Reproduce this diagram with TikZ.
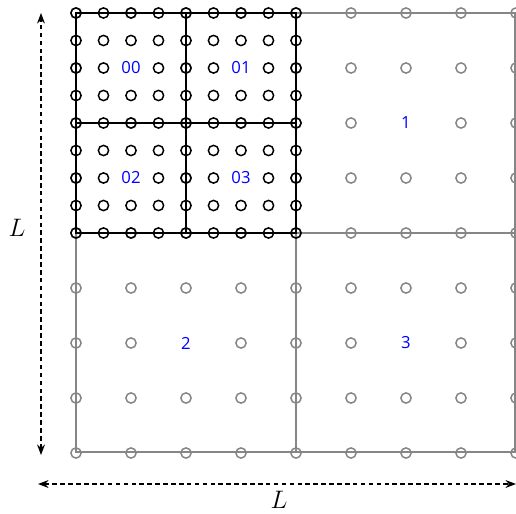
\documentclass[tikz,border=0pt]{standalone}
\usepackage{fontspec}
\setmainfont{Open Sans}
\usetikzlibrary{arrows.meta}
\begin{document}
\begin{tikzpicture}[x=0.02cm,y=-0.02cm,
  gline/.style={draw=gray!95, line width=0.85pt},
  bline/.style={draw=black, line width=1.1pt},
  gdot/.style={circle, draw=gray!95, line width=0.85pt, minimum size=0.205cm, inner sep=0pt},
  bdot/.style={circle, draw=black, line width=0.85pt, minimum size=0.205cm, inner sep=0pt},
  lab/.style={text=blue, font=\fontsize{9.5}{11}\selectfont, inner sep=0pt},
  dimarrow/.style={dash pattern=on 2.6pt off 1.9pt, line width=0.8pt, {Stealth[length=6pt,width=4.5pt]}-{Stealth[length=6pt,width=4.5pt]}},
  Llab/.style={font=\fontsize{15.5}{17}\selectfont, inner sep=0pt}]
\useasboundingbox (0,0) rectangle (516,513);
% grey coarse grid corners
\coordinate (g00) at (76,13);
\coordinate (g22) at (515,452);
\coordinate (gm0) at (296,13);
\coordinate (gm2) at (296,452);
\coordinate (g0m) at (76,233);
\coordinate (g2m) at (515,233);
\draw[gline] (g00) rectangle (g22);
\draw[gline] (gm0) -- (gm2);
\draw[gline] (g0m) -- (g2m);
% grey circles (skipped where a label stands)
\foreach \i in {0,...,8}{
  \foreach \j in {0,...,8}{
    \ifnum\i\j=11 \else\ifnum\i\j=13 \else\ifnum\i\j=31 \else\ifnum\i\j=33 \else
    \ifnum\i\j=62 \else\ifnum\i\j=26 \else\ifnum\i\j=66 \else
    \node[gdot] (c\i-\j) at ({76+55*\i},{13+55*\j}) {};
    \fi\fi\fi\fi\fi\fi\fi
  }
}
% black fine quadrant
\coordinate (b00) at (76,13);
\coordinate (b22) at (296,233);
\coordinate (bm0) at (186,13);
\coordinate (bm2) at (186,233);
\coordinate (b0m) at (76,123);
\coordinate (b2m) at (296,123);
\draw[bline] (b00) rectangle (b22);
\draw[bline] (bm0) -- (bm2);
\draw[bline] (b0m) -- (b2m);
\foreach \i in {0,...,8}{
  \foreach \j in {0,...,8}{
    \ifnum\i\j=22 \else\ifnum\i\j=62 \else\ifnum\i\j=26 \else\ifnum\i\j=66 \else
    \node[bdot] (f\i-\j) at ({76+27.5*\i},{13+27.5*\j}) {};
    \fi\fi\fi\fi
  }
}
% labels
\node[lab] (q00) at (131,68) {00};
\node[lab] (q01) at (241,68) {01};
\node[lab] (q02) at (131,178) {02};
\node[lab] (q03) at (241,178) {03};
\node[lab] (q1) at (406,123) {1};
\node[lab] (q2) at (186,343) {2};
\node[lab] (q3) at (406,343) {3};
% dimension arrows
\coordinate (vtop) at (41,13);
\coordinate (vbot) at (41,455);
\coordinate (hl) at (38,484);
\coordinate (hr) at (516,484);
\draw[dimarrow] (vbot) -- (vtop);
\draw[dimarrow] (hl) -- (hr);
\node[Llab] (Lv) at (17,228) {$L$};
\node[Llab] (Lh) at (279,500) {$L$};
\end{tikzpicture}
\end{document}
